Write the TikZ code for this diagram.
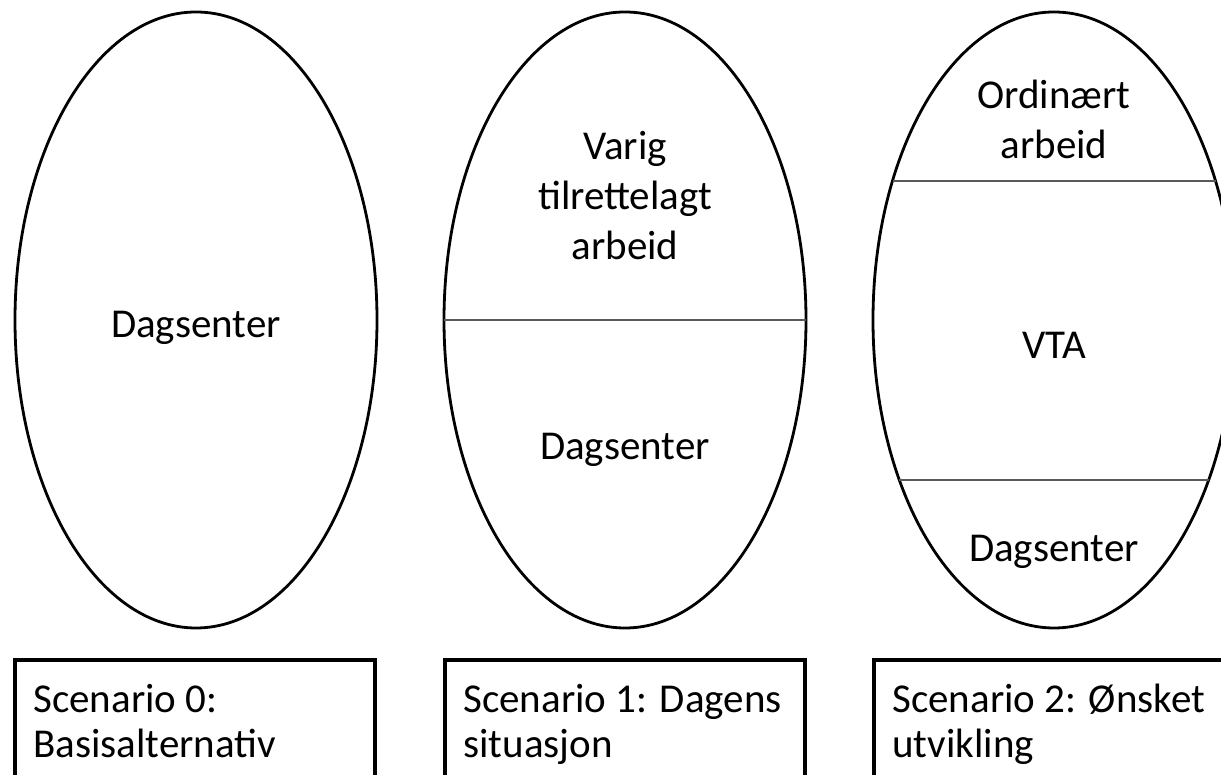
\documentclass[tikz,border=0pt]{standalone}
\usepackage{fontspec}
\setmainfont{Carlito}
\usetikzlibrary{shapes.geometric,calc}
\begin{document}
\begin{tikzpicture}[x=0.5pt,y=0.5pt,
oval/.style={draw, ellipse, line width=1.4pt, minimum width=181pt,
minimum height=308pt, inner sep=0pt, outer sep=0pt},
frame/.style={draw, rectangle, line width=1.6pt, minimum width=180pt,
minimum height=95pt, anchor=north west, inner sep=0pt, outer sep=0pt},
divider/.style={draw=black!65, line width=0.8pt},
lbl/.style={font=\fontsize{20.5}{25}\selectfont, align=center, anchor=base, inner sep=0pt},
scen/.style={font=\fontsize{20.5}{22.5}\selectfont, align=left, anchor=base west, inner sep=0pt}]
\useasboundingbox (0,0) rectangle (1221,775);
\clip (0,0) rectangle (1221,775);
% ovals
\node[oval] (e1) at (196,455) {};
\node[oval] (e2) at (625,455) {};
\node[oval] (e3) at (1054,455) {};
\coordinate (e3tl) at ($(e3.center)+(-161.5,139)$);
\coordinate (e3tr) at ($(e3.center)+(161.5,139)$);
\coordinate (e3bl) at ($(e3.center)+(-154.7,-160)$);
\coordinate (e3br) at ($(e3.center)+(154.7,-160)$);
\draw[divider] (e2.west) -- (e2.east);
\draw[divider] (e3tl) -- (e3tr);
\draw[divider] (e3bl) -- (e3br);
% texts in ovals (base = last line)
\node[lbl] (d1) at (196,437) {Dagsenter};
\node[lbl] (v2) at (625,515) {Varig\\tilrettelagt\\arbeid};
\node[lbl] (d2) at (625,315) {Dagsenter};
\node[lbl] (o3) at (1054,616) {Ordinært\\arbeid};
\node[lbl] (v3) at (1054,416) {VTA};
\node[lbl] (d3) at (1054,213) {Dagsenter};
% scenario boxes
\node[frame] (b1) at (15,115) {};
\node[frame] (b2) at (445,115) {};
\node[frame] (b3) at (874,115) {};
\node[scen] (s1) at ($(b1.north west)+(18,-98)$) {Scenario 0:\\Basisalternativ};
\node[scen] (s2) at ($(b2.north west)+(18,-98)$) {Scenario 1: Dagens\\situasjon};
\node[scen] (s3) at ($(b3.north west)+(18,-98)$) {Scenario 2: Ønsket\\utvikling};
\end{tikzpicture}
\end{document}
